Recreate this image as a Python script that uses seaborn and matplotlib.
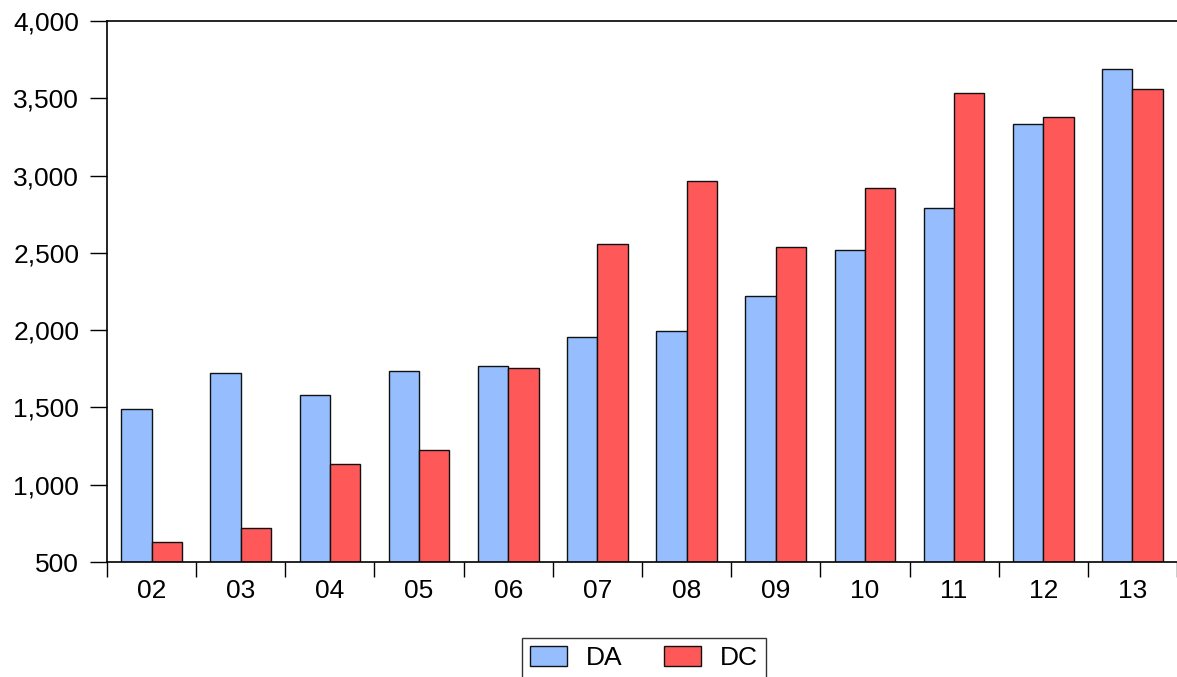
import pandas as pd
import matplotlib.pyplot as plt
import seaborn as sns
from matplotlib.ticker import FuncFormatter, FixedLocator

# ======================================================
# Data
# ======================================================

years = ["02", "03", "04", "05", "06", "07", "08", "09", "10", "11", "12", "13"]
da = [1488, 1722, 1578, 1733, 1766, 1953, 1992, 2224, 2521, 2788, 3332, 3689]
dc = [627, 722, 1133, 1223, 1753, 2560, 2962, 2540, 2922, 3534, 3379, 3562]

data = pd.DataFrame({
    "year": years * 2,
    "value": da + dc,
    "series": ["DA"] * len(years) + ["DC"] * len(years),
})

# ======================================================
# Plot
# ======================================================

sns.set_style("white")
plt.rcParams["font.family"] = ["Liberation Sans", "DejaVu Sans"]
plt.rcParams["text.color"] = "black"
plt.rcParams["xtick.color"] = "black"
plt.rcParams["ytick.color"] = "black"

fs = 19

fig = plt.figure(figsize=(11.77, 6.77), dpi=100)
ax = fig.add_axes([107 / 1177, 1 - 562 / 677, 1 - 107 / 1177, (562 - 21) / 677])

sns.barplot(
    data=data, x="year", y="value", hue="series",
    palette={"DA": "#96BEFF", "DC": "#FF5858"}, saturation=1,
    edgecolor="#111111", linewidth=1, width=0.68, ax=ax,
)

ax.set_ylim(500, 4000)
ax.set_xlim(-0.5, len(years) - 0.5)
ax.set_yticks(range(500, 4001, 500))
ax.yaxis.set_major_formatter(FuncFormatter(lambda v, p: f"{int(v):,}"))
ax.set_xlabel("")
ax.set_ylabel("")

# ticks at category boundaries, labels centred
ax.xaxis.set_minor_locator(FixedLocator([i - 0.5 for i in range(len(years) + 1)]))
ax.tick_params(axis="x", which="major", length=0, labelsize=fs, pad=12)
ax.tick_params(axis="x", which="minor", length=11, width=1, direction="out", bottom=True)
ax.tick_params(axis="y", length=12, width=1, direction="out", left=True, labelsize=fs, pad=8)

for side in ["left", "bottom", "top"]:
    ax.spines[side].set_color("black")
    ax.spines[side].set_linewidth(1.2)
ax.spines["right"].set_visible(False)

leg = ax.legend(
    loc="upper center", bbox_to_anchor=(644 / 1177, 1 - 638 / 677),
    bbox_transform=fig.transFigure, ncol=2, frameon=True, fancybox=False,
    fontsize=fs, handlelength=1.4, handleheight=0.8, columnspacing=1.6,
    borderpad=0.3, handletextpad=0.7, borderaxespad=0,
)
leg.get_frame().set_edgecolor("black")
leg.get_frame().set_linewidth(1)

fig.savefig("out.png", dpi=100)
